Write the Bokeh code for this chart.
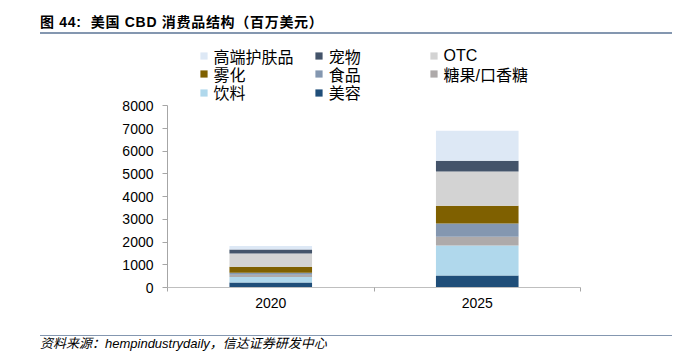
from bokeh.plotting import figure
from bokeh.models import (Range1d, FixedTicker, Legend, LegendItem, Div, ColumnDataSource)
from bokeh.layouts import column
from bokeh.embed import file_html
from bokeh.resources import INLINE

# ---- data (百万美元) ----
years = ["2020", "2025"]
series = ["美容", "饮料", "糖果/口香糖", "食品", "雾化", "OTC", "宠物", "高端护肤品"]
beauty = [220, 530]
drinks = [238, 1320]
candy = [100, 383]
food = [88, 586]
vaping = [264, 780]
otc = [586, 1511]
pet = [176, 471]
skincare = [150, 1321]
colors = ["#1f4e79", "#b0d8ec", "#aeaaaa", "#8497b0", "#7f6000", "#d3d3d3", "#44546a", "#dde8f5"]
yticks = [0, 1000, 2000, 3000, 4000, 5000, 6000, 7000, 8000]
y_max = 8000

values = [beauty, drinks, candy, food, vaping, otc, pet, skincare]
data = {"x": [i + 0.5 for i in range(len(years))]}
for name, vals in zip(series, values):
    data[name] = vals
source = ColumnDataSource(data)

FONT = "'Liberation Sans', 'Noto Sans CJK SC'"

# frame extends above the axis top so that the legend (inside the frame) is not clipped
axis_px = 181.7
frame_h = 247
p = figure(width=672, height=300, output_backend="svg", toolbar_location=None,
           x_range=Range1d(0, len(years)), y_range=Range1d(0, y_max * frame_h / axis_px),
           min_border_left=167, min_border_right=92, min_border_top=5, min_border_bottom=48,
           frame_width=413, frame_height=frame_h)
p.outline_line_color = None
p.xgrid.grid_line_color = None
p.ygrid.grid_line_color = None
p.background_fill_color = "white"
p.border_fill_color = "white"

rs = p.vbar_stack(series, x="x", width=0.4, color=colors, source=source, line_color=None)

# axes
p.yaxis.ticker = FixedTicker(ticks=yticks)
p.yaxis.bounds = (0, y_max)
p.yaxis.axis_line_color = "#a6a6a6"
p.yaxis.major_tick_line_color = "#a6a6a6"
p.yaxis.major_tick_out = 5
p.yaxis.major_tick_in = 0
p.yaxis.minor_tick_line_color = None
p.yaxis.major_label_text_font = FONT
p.yaxis.major_label_text_font_size = "14px"
p.yaxis.major_label_text_color = "black"
p.yaxis.major_label_standoff = 9

p.xaxis.ticker = FixedTicker(ticks=data["x"], minor_ticks=[float(i) for i in range(len(years) + 1)])
p.xaxis.major_label_overrides = {x: y for x, y in zip(data["x"], years)}
p.xaxis.axis_line_color = "#bfbfbf"
p.xaxis.major_tick_line_color = None
p.xaxis.minor_tick_line_color = "#a6a6a6"
p.xaxis.minor_tick_out = 4
p.xaxis.minor_tick_in = 0
p.xaxis.major_label_text_font = FONT
p.xaxis.major_label_text_font_size = "14px"
p.xaxis.major_label_text_color = "black"
p.xaxis.major_label_standoff = 4

# legend: 3 columns x 3 rows, one small legend per entry
by_name = dict(zip(series, rs))
grid = [["高端护肤品", "宠物", "OTC"], ["雾化", "食品", "糖果/口香糖"], ["饮料", "美容", None]]
col_x = [31.5, 146.8, 261.5]
row_c = [231.5, 213.2, 194.9]
item_h = 24
for r, row in enumerate(grid):
    for c, name in enumerate(row):
        if name is None:
            continue
        lg = Legend(items=[LegendItem(label=name, renderers=[by_name[name]])],
                    location=(col_x[c], row_c[r] - item_h / 2),
                    orientation="vertical", padding=0, margin=0, spacing=0,
                    glyph_width=9, glyph_height=9, label_height=item_h, label_standoff=6,
                    label_text_font=FONT, label_text_font_size="16px", label_text_color="black",
                    border_line_color=None, background_fill_alpha=0)
        p.add_layout(lg)

header = Div(text=('<div style="box-sizing:border-box;width:632px;height:34px;padding-top:14px;line-height:16px;'
                   'border-bottom:2px solid #8497b0;font-family:\'Liberation Sans\',\'Noto Sans CJK SC\';'
                   'font-weight:bold;font-size:14px;letter-spacing:0.7px;color:#000;white-space:pre;">'
                   '图 44:  美国 CBD 消费品结构（百万美元）</div>'),
             width=632, height=35, margin=(0, 0, 0, 40))
footer = Div(text=('<div style="box-sizing:border-box;width:632px;height:20px;line-height:16px;'
                   'border-top:1.5px solid #8497b0;font-family:\'Liberation Sans\',\'Noto Sans CJK SC\';'
                   'font-style:italic;font-size:13px;color:#000;white-space:pre;">'
                   '资料来源：hempindustrydaily，信达证券研发中心</div>'),
             width=632, height=20, margin=(0, 0, 0, 40))

layout = column(header, p, footer, spacing=0)
open("out.html", "w").write(file_html(layout, INLINE))
